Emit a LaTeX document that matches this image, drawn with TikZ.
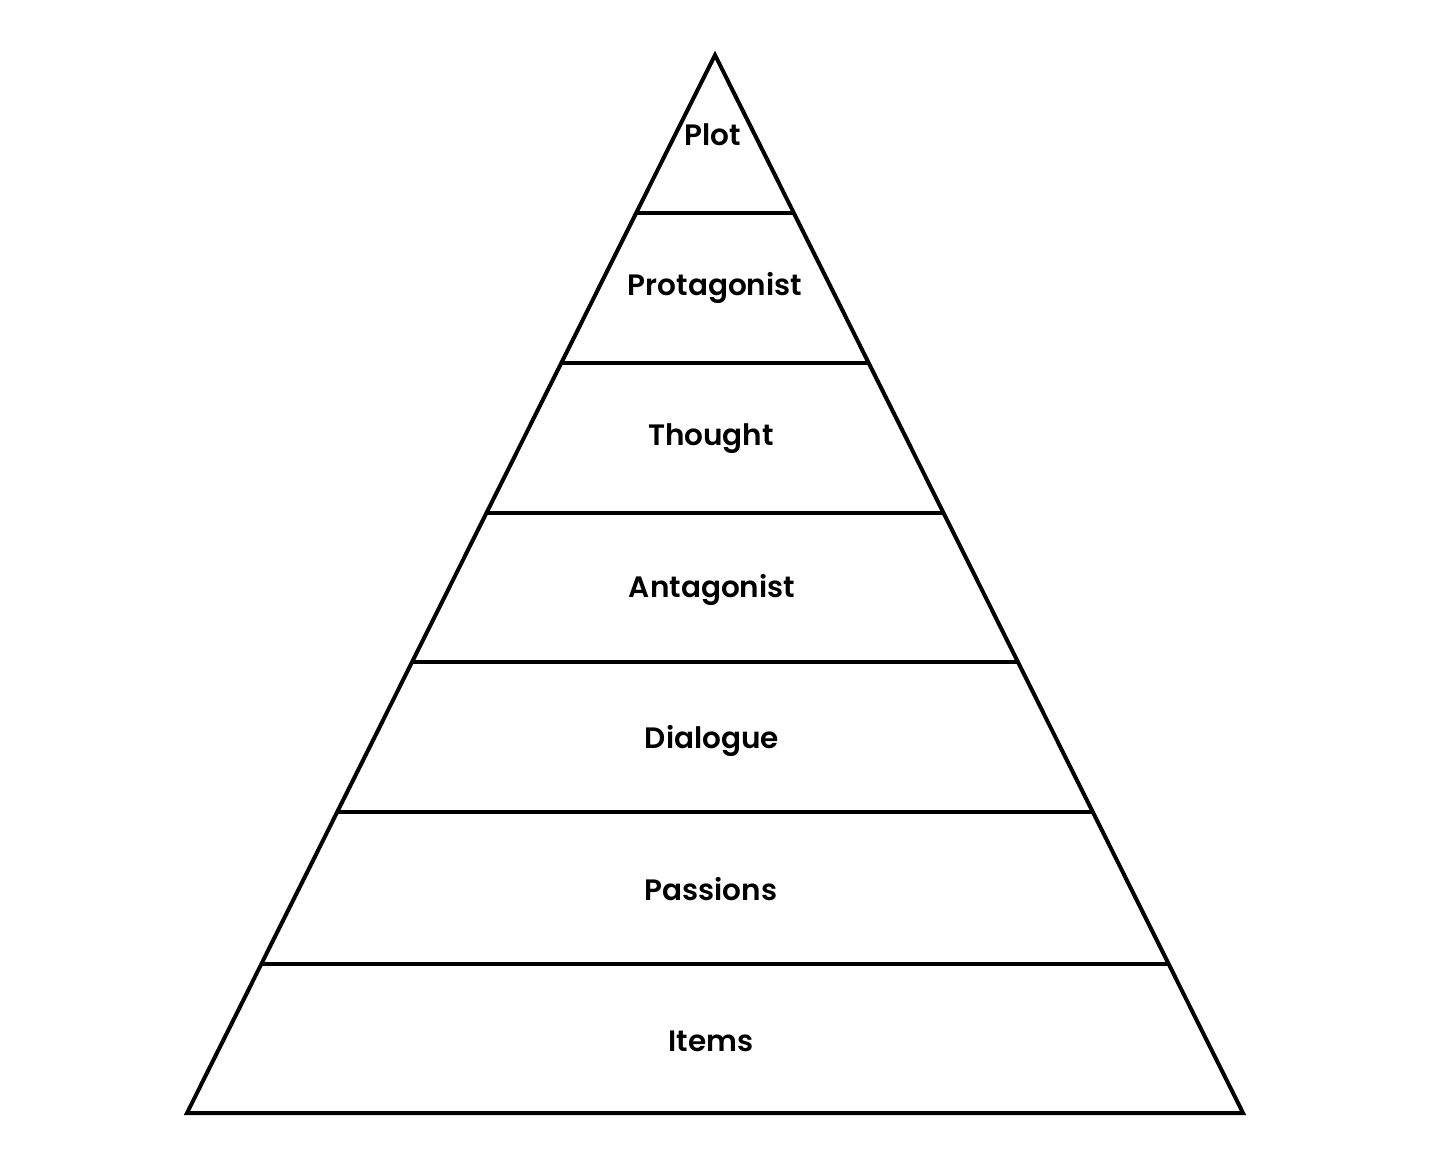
\documentclass[tikz,border=0pt]{standalone}
\usepackage{fontspec}
\setmainfont{Poppins}[UprightFont={* SemiBold}]
\usetikzlibrary{calc}
\begin{document}
\begin{tikzpicture}[x=1pt,y=-1pt,
  edge/.style={line width=4pt,line join=miter,black},
  lbl/.style={font=\fontsize{29.5}{34}\selectfont,inner sep=0pt,anchor=center}]
\useasboundingbox (0,0) rectangle (1431,1175);
\coordinate (apex) at (715,55);
\coordinate (bl) at (187,1113);
\coordinate (br) at (1243,1113);
\draw[edge] (apex) -- (bl) -- (br) -- cycle;
\foreach \y [count=\i] in {213,363,513,662,812,964}{
  \pgfmathsetmacro{\t}{(\y-55)/1058}
  \coordinate (l\i) at ($(apex)!\t!(bl)$);
  \coordinate (r\i) at ($(apex)!\t!(br)$);
  \draw[edge] (l\i) -- (r\i);
}
\node[lbl] (plot) at (713,135) {Plot};
\node[lbl] (prot) at (715,288) {Protagonist};
\node[lbl] (thou) at (711,439) {Thought};
\node[lbl] (anta) at (712,590) {Antagonist};
\node[lbl] (dial) at (712,741) {Dialogue};
\node[lbl] (pass) at (711,889) {Passions};
\node[lbl] (item) at (711,1041) {Items};
\end{tikzpicture}
\end{document}
